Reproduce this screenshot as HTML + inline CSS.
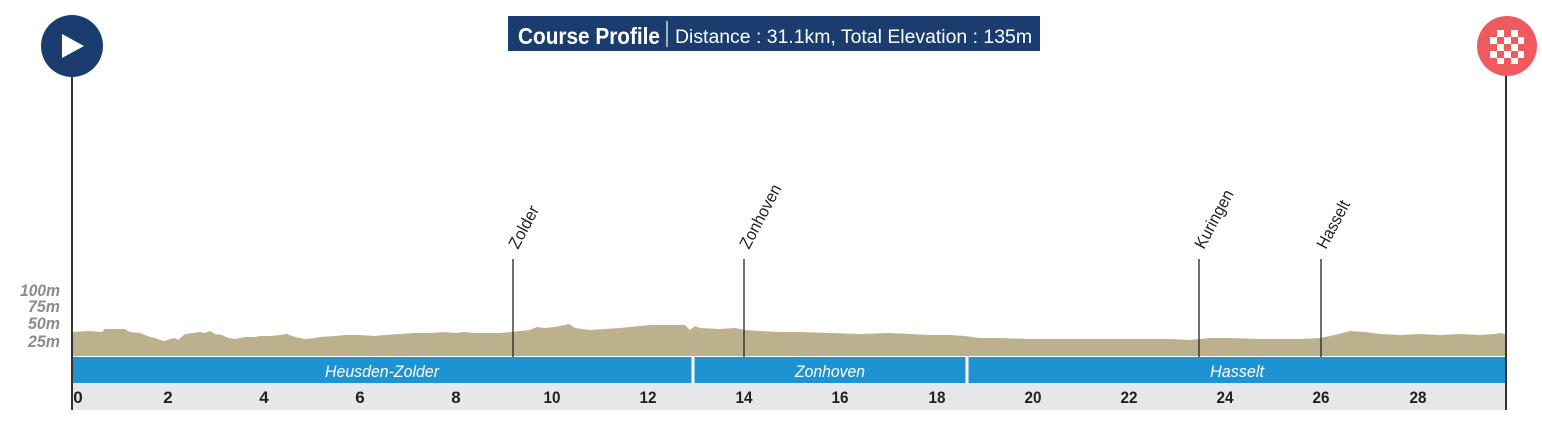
<!DOCTYPE html>
<html><head><meta charset="utf-8"><style>
body{margin:0;background:#fff;width:1542px;height:426px;overflow:hidden;font-family:"Liberation Sans",sans-serif}
</style></head><body>
<svg width="1542" height="426" viewBox="0 0 1542 426" xmlns="http://www.w3.org/2000/svg" font-family="Liberation Sans, sans-serif">
<rect x="508" y="16" width="532" height="35" fill="#1a3c6e"/>
<text x="518" y="44" fill="#fff" font-size="23" font-weight="bold" textLength="142" lengthAdjust="spacingAndGlyphs">Course Profile</text>
<line x1="667" y1="21" x2="667" y2="47" stroke="#fff" stroke-width="1.2"/>
<text x="675" y="43" fill="#fff" font-size="19" textLength="357" lengthAdjust="spacingAndGlyphs">Distance : 31.1km, Total Elevation : 135m</text>

<rect x="72" y="383" width="1434" height="27" fill="#e6e7e9"/>
<rect x="72" y="357" width="1434" height="26" fill="#1e93d2"/>
<line x1="693" y1="357" x2="693" y2="383" stroke="#fff" stroke-width="3"/>
<line x1="967" y1="357" x2="967" y2="383" stroke="#fff" stroke-width="3"/>
<g fill="#fff" font-size="17" font-style="italic" text-anchor="middle">
<text x="382" y="377" textLength="114" lengthAdjust="spacingAndGlyphs">Heusden-Zolder</text><text x="830" y="377" textLength="70" lengthAdjust="spacingAndGlyphs">Zonhoven</text><text x="1237" y="377" textLength="54" lengthAdjust="spacingAndGlyphs">Hasselt</text></g>

<polygon fill="#bdb08d" points="72,356 72,332 90,331 102,332 105,329 125,329 130,332 140,333 150,337 155,338 160,340 165,341 170,339 175,338 178,340 185,334 200,332 205,333 210,331 215,334 222,335 228,338 235,339 245,337 255,337 260,336 270,336 280,335 287,334 295,337 305,339 315,338 320,337 335,336 345,335 360,335 375,336 385,335 400,334 415,333 430,333 445,332 455,333 465,332 475,333 490,333 500,333 520,331 530,330 537,327 545,328 555,327 560,326 569,324 575,328 590,330 605,329 620,328 630,327 650,325 685,325 690,330 695,326 700,328 720,329 735,328 745,330 760,331 780,332 800,332 830,333 860,334 890,333 910,334 930,335 950,335 965,336 980,338 1000,338 1030,339 1060,339 1100,339 1140,339 1170,339 1190,340 1200,339 1210,338 1230,338 1260,339 1300,339 1320,338 1335,335 1350,331 1365,332 1380,334 1400,335 1420,334 1440,335 1460,334 1480,335 1495,334 1500,333 1506,334 1506,356"/>

<g fill="#8a8c8e" font-size="17" font-weight="bold" font-style="italic" text-anchor="end">
<text x="60" y="296" textLength="40" lengthAdjust="spacingAndGlyphs">100m</text><text x="60" y="312" textLength="32" lengthAdjust="spacingAndGlyphs">75m</text><text x="60" y="329" textLength="32" lengthAdjust="spacingAndGlyphs">50m</text><text x="60" y="347" textLength="32" lengthAdjust="spacingAndGlyphs">25m</text></g>

<g fill="#222" font-size="17" font-weight="bold" text-anchor="middle">
<text x="78" y="403">0</text><text x="168" y="403">2</text><text x="264" y="403">4</text><text x="360" y="403">6</text><text x="456" y="403">8</text><text x="552" y="403" textLength="17" lengthAdjust="spacingAndGlyphs">10</text><text x="648" y="403" textLength="17" lengthAdjust="spacingAndGlyphs">12</text><text x="744" y="403" textLength="17" lengthAdjust="spacingAndGlyphs">14</text><text x="840" y="403" textLength="17" lengthAdjust="spacingAndGlyphs">16</text><text x="937" y="403" textLength="17" lengthAdjust="spacingAndGlyphs">18</text><text x="1033" y="403" textLength="17" lengthAdjust="spacingAndGlyphs">20</text><text x="1129" y="403" textLength="17" lengthAdjust="spacingAndGlyphs">22</text><text x="1225" y="403" textLength="17" lengthAdjust="spacingAndGlyphs">24</text><text x="1321" y="403" textLength="17" lengthAdjust="spacingAndGlyphs">26</text><text x="1418" y="403" textLength="17" lengthAdjust="spacingAndGlyphs">28</text></g>

<g stroke="#222" stroke-width="1.3">
<line x1="513" y1="259" x2="513" y2="357"/><line x1="744" y1="259" x2="744" y2="357"/><line x1="1199" y1="259" x2="1199" y2="357"/><line x1="1321" y1="259" x2="1321" y2="357"/></g>
<g fill="#222" font-size="17">
<text transform="translate(518,250) rotate(-62)" textLength="46" lengthAdjust="spacingAndGlyphs">Zolder</text>
<text transform="translate(749,250) rotate(-62)" textLength="70" lengthAdjust="spacingAndGlyphs">Zonhoven</text>
<text transform="translate(1204,250) rotate(-62)" textLength="64" lengthAdjust="spacingAndGlyphs">Kuringen</text>
<text transform="translate(1326,250) rotate(-62)" textLength="52" lengthAdjust="spacingAndGlyphs">Hasselt</text></g>

<line x1="72" y1="70" x2="72" y2="410" stroke="#333" stroke-width="2"/>
<line x1="1506" y1="70" x2="1506" y2="410" stroke="#333" stroke-width="2"/>
<circle cx="72" cy="46" r="31" fill="#1a3c6e"/>
<polygon points="62,34 62,58 84,46" fill="#fff"/>
<circle cx="1507" cy="46" r="30" fill="#ef5a5e"/>
<g fill="#fff">
<rect x="1497" y="30" width="7" height="7"/><rect x="1511" y="30" width="7" height="7"/>
<rect x="1490" y="37" width="7" height="7"/><rect x="1504" y="37" width="7" height="7"/><rect x="1518" y="37" width="6" height="7"/>
<rect x="1497" y="44" width="7" height="7"/><rect x="1511" y="44" width="7" height="7"/>
<rect x="1490" y="51" width="7" height="7"/><rect x="1504" y="51" width="7" height="7"/><rect x="1518" y="51" width="6" height="7"/>
<rect x="1497" y="58" width="7" height="6"/><rect x="1511" y="58" width="7" height="6"/></g>
</svg>
</body></html>
